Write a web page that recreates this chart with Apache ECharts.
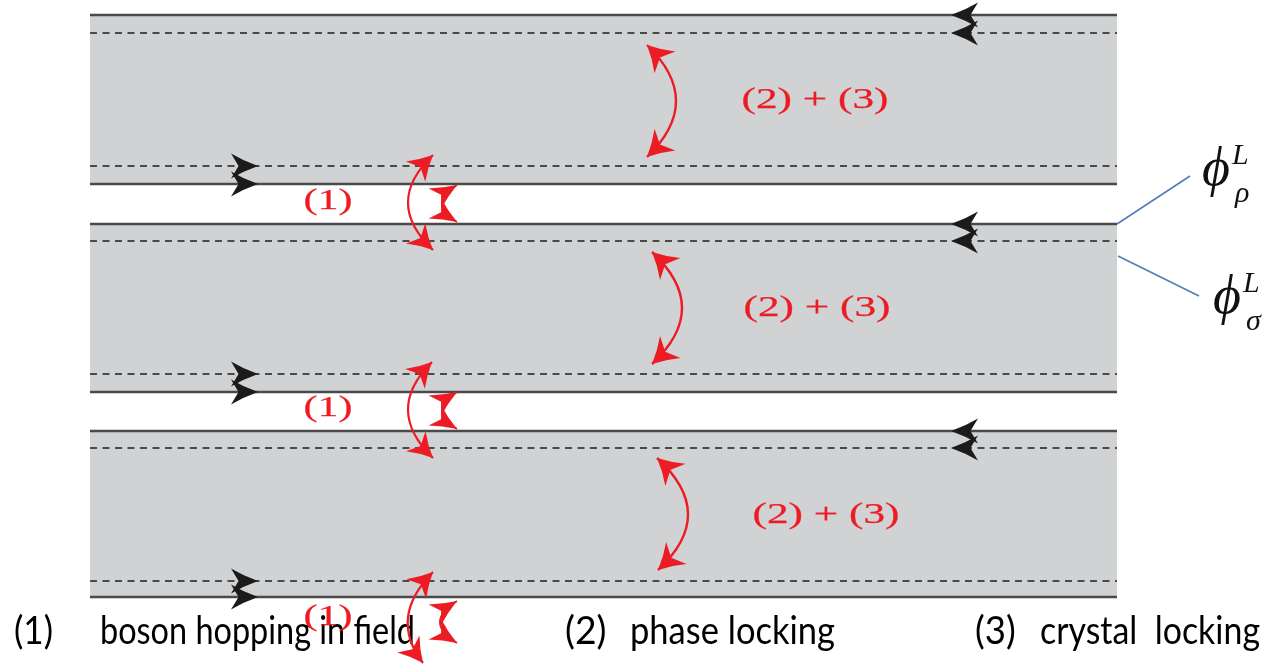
<!DOCTYPE html>
<html><head><meta charset="utf-8">
<script src="https://cdn.jsdelivr.net/npm/echarts@6/dist/echarts.min.js"></script>
<style>html,body{margin:0;padding:0;background:#fff}#c{width:1266px;height:668px}</style>
</head><body><div id="c"></div>
<script>
// ---- diagram data (in chart units) ----
const bandSpan = [90, 1117];
const bandEdges = [[15, 184], [224, 392], [431, 597]];
const dashedLines = [33, 166, 241, 374, 448, 581];
const leftArrows = [[951, 15], [951, 33], [951, 224], [951, 241], [951, 431], [951, 448]];
const rightArrows = [[258, 166], [258, 184], [258, 374], [258, 392], [258, 581], [258, 597]];
// [xStart, yStart, xEnd, yEnd, xApex]
const lockArcs = [[647, 45, 647, 157, 676], [652, 252, 652, 364, 682], [657, 458, 658, 570, 688]];
const hopArcs = [[433, 155, 433, 250, 408], [432, 362, 433, 458, 408], [433, 572, 423, 663, 408]];
const hopSmallArcs = [[457, 185, 457, 222, 442], [457, 392, 457, 429, 442], [457, 601, 457, 643, 440]];
const lockLabels = [[815, 100, '(2) + (3)'], [817, 308, '(2) + (3)'], [826, 515, '(2) + (3)']];
const hopLabels = [[328, 201, '(1)'], [328, 408, '(1)'], [328, 617, '(1)']];
// [xNumber, xTextStart, xTextEnd, y, number, text]
const legendItems = [
  [14, 100, 415, 632, '(1)', 'boson hopping in field'],
  [565, 630, 835, 632, '(2)', 'phase locking'],
  [975, 1040, 1260, 632, '(3)', 'crystal  locking']
];
// [x, y, subscript]
const fieldLabels = [[1216, 173, 'ρ'], [1227, 301, 'σ']];
const leaderLines = [[1117, 224, 1190, 176], [1118, 256, 1199, 296]];

// ---- styles ----
const GREY = '#d1d2d4', LINE = '#4a4a4a', RED = '#ed1c24', BLUE = '#4f7fba', BLACK = '#1b1b1b';

const mctx = document.createElement('canvas').getContext('2d');
function measure(text, font) { mctx.font = font; return mctx.measureText(text).width; }

function headPath(tx, ty, dx, dy, L, W) {
  const n = Math.hypot(dx, dy); dx /= n; dy /= n;
  const px = -dy, py = dx;
  const bx = tx - dx * L, by = ty - dy * L;
  const w1 = [bx + px * W, by + py * W], w2 = [bx - px * W, by - py * W];
  const nt = [tx - dx * L * 0.72, ty - dy * L * 0.72];
  const c1 = [tx - dx * L * 0.55 + px * W * 0.42, ty - dy * L * 0.55 + py * W * 0.42];
  const c2 = [tx - dx * L * 0.55 - px * W * 0.42, ty - dy * L * 0.55 - py * W * 0.42];
  const f = v => v.toFixed(2);
  return 'M' + f(tx) + ' ' + f(ty) +
    ' Q' + f(c1[0]) + ' ' + f(c1[1]) + ' ' + f(w1[0]) + ' ' + f(w1[1]) +
    ' L' + f(nt[0]) + ' ' + f(nt[1]) +
    ' L' + f(w2[0]) + ' ' + f(w2[1]) +
    ' Q' + f(c2[0]) + ' ' + f(c2[1]) + ' ' + f(tx) + ' ' + f(ty) + ' Z';
}

function arcItem(arr, lw, L, W) {
  return function (params, api) {
    const a = arr[params.dataIndex];
    const s = api.coord([a[0], a[1]]), e = api.coord([a[2], a[3]]);
    const apex = api.coord([a[4], (a[1] + a[3]) / 2]);
    const cx = 2 * apex[0] - (s[0] + e[0]) / 2, cy = 2 * apex[1] - (s[1] + e[1]) / 2;
    return { type: 'group', children: [
      { type: 'bezierCurve', shape: { x1: s[0], y1: s[1], x2: e[0], y2: e[1], cpx1: cx, cpy1: cy },
        style: { stroke: RED, lineWidth: lw, fill: null } },
      { type: 'path', shape: { pathData: headPath(s[0], s[1], s[0] - cx, s[1] - cy, L, W) }, style: { fill: RED } },
      { type: 'path', shape: { pathData: headPath(e[0], e[1], e[0] - cx, e[1] - cy, L, W) }, style: { fill: RED } }
    ] };
  };
}

function arrowItem(arr, dir) {
  return function (params, api) {
    const a = arr[params.dataIndex];
    const t = api.coord([a[0], a[1]]);
    return { type: 'path', shape: { pathData: headPath(t[0], t[1], dir, 0, 27, 12.5) }, style: { fill: BLACK } };
  };
}

function textEl(x, y, text, font, color, scaleX, align, strokeW) {
  const st = { text: text, font: font, fill: color, align: align || 'center', verticalAlign: 'middle' };
  if (strokeW) { st.stroke = color; st.lineWidth = strokeW; }
  return { type: 'text', x: x, y: y, scaleX: scaleX, style: st };
}

const series = [];
// bands
series.push({ type: 'custom', z: 1, data: bandEdges.map(d => [bandSpan[0], d[0], bandSpan[1], d[1]]),
  renderItem: (p, api) => {
    const a = api.coord([api.value(0), api.value(1)]), b = api.coord([api.value(2), api.value(3)]);
    return { type: 'group', children: [
      { type: 'rect', shape: { x: a[0], y: a[1], width: b[0] - a[0], height: b[1] - a[1] }, style: { fill: GREY } },
      { type: 'line', shape: { x1: a[0], y1: a[1], x2: b[0], y2: a[1] }, style: { stroke: LINE, lineWidth: 2.5 } },
      { type: 'line', shape: { x1: a[0], y1: b[1], x2: b[0], y2: b[1] }, style: { stroke: LINE, lineWidth: 2.5 } }
    ] };
  } });
// dashed lines
series.push({ type: 'custom', z: 2, data: dashedLines.map(y => [bandSpan[0], y, bandSpan[1], y]),
  renderItem: (p, api) => {
    const a = api.coord([api.value(0), api.value(1)]), b = api.coord([api.value(2), api.value(3)]);
    return { type: 'line', shape: { x1: a[0], y1: a[1], x2: b[0], y2: b[1] }, style: { stroke: LINE, lineWidth: 2, lineDash: [7, 5.5] } };
  } });
// black arrows
series.push({ type: 'custom', z: 3, data: leftArrows, renderItem: arrowItem(leftArrows, -1) });
series.push({ type: 'custom', z: 3, data: rightArrows, renderItem: arrowItem(rightArrows, 1) });
// leader lines
series.push({ type: 'custom', z: 3, data: leaderLines,
  renderItem: (p, api) => {
    const a = api.coord([api.value(0), api.value(1)]), b = api.coord([api.value(2), api.value(3)]);
    return { type: 'line', shape: { x1: a[0], y1: a[1], x2: b[0], y2: b[1] }, style: { stroke: BLUE, lineWidth: 1.6 } };
  } });
// legend text
const LEG_FONT = '38px Lato';
series.push({ type: 'custom', z: 4, data: legendItems.map(d => [d[0], d[3]]),
  renderItem: (p, api) => {
    const d = legendItems[p.dataIndex];
    const n = api.coord([d[0], d[3]]), s = api.coord([d[1], d[3]]), e = api.coord([d[2], d[3]]);
    const sx = (e[0] - s[0]) / measure(d[5], LEG_FONT);
    return { type: 'group', children: [
      textEl(n[0], n[1], d[4], LEG_FONT, '#000', sx * 1.08, 'left'),
      textEl(s[0], s[1], d[5], LEG_FONT, '#000', sx, 'left')
    ] };
  } });
// red arcs
series.push({ type: 'custom', z: 5, data: lockArcs, renderItem: arcItem(lockArcs, 2.4, 25, 15) });
series.push({ type: 'custom', z: 5, data: hopArcs, renderItem: arcItem(hopArcs, 2.2, 24, 14) });
series.push({ type: 'custom', z: 5, data: hopSmallArcs, renderItem: arcItem(hopSmallArcs, 2, 26, 12) });
// red labels
const RED_FONT = '29px "Liberation Serif"';
const LOCK_W = 147, HOP_W = 49;
series.push({ type: 'custom', z: 6, data: lockLabels.map(d => [d[0], d[1]]),
  renderItem: (p, api) => { const c = api.coord([api.value(0), api.value(1)]); const t = lockLabels[p.dataIndex][2];
    return textEl(c[0], c[1], t, RED_FONT, RED, LOCK_W / measure(t, RED_FONT), 'center', 0.25); } });
series.push({ type: 'custom', z: 6, data: hopLabels.map(d => [d[0], d[1]]),
  renderItem: (p, api) => { const c = api.coord([api.value(0), api.value(1)]); const t = hopLabels[p.dataIndex][2];
    return textEl(c[0], c[1], t, RED_FONT, RED, HOP_W / measure(t, RED_FONT), 'center', 0.25); } });
// field labels phi^L_sub
series.push({ type: 'custom', z: 6, data: fieldLabels.map(d => [d[0], d[1]]),
  renderItem: (p, api) => {
    const c = api.coord([api.value(0), api.value(1)]);
    const sub = fieldLabels[p.dataIndex][2];
    return { type: 'group', children: [
      textEl(c[0], c[1] - 2, 'ϕ', 'italic 54px "Liberation Serif"', '#111', 1),
      textEl(c[0] + 16, c[1] - 17, 'L', 'italic 30px "Liberation Serif"', '#111', 1, 'left'),
      textEl(c[0] + 19, c[1] + 21, sub, 'italic 30px "Liberation Serif"', '#111', 1, 'left')
    ] };
  } });

const chart = echarts.init(document.getElementById('c'), null, { renderer: 'canvas' });
chart.setOption({
  animation: false,
  backgroundColor: '#fff',
  grid: { left: 0, right: 0, top: 0, bottom: 0 },
  xAxis: { type: 'value', min: 0, max: 1266, show: false },
  yAxis: { type: 'value', min: 0, max: 668, inverse: true, show: false },
  series: series
});
</script></body></html>
